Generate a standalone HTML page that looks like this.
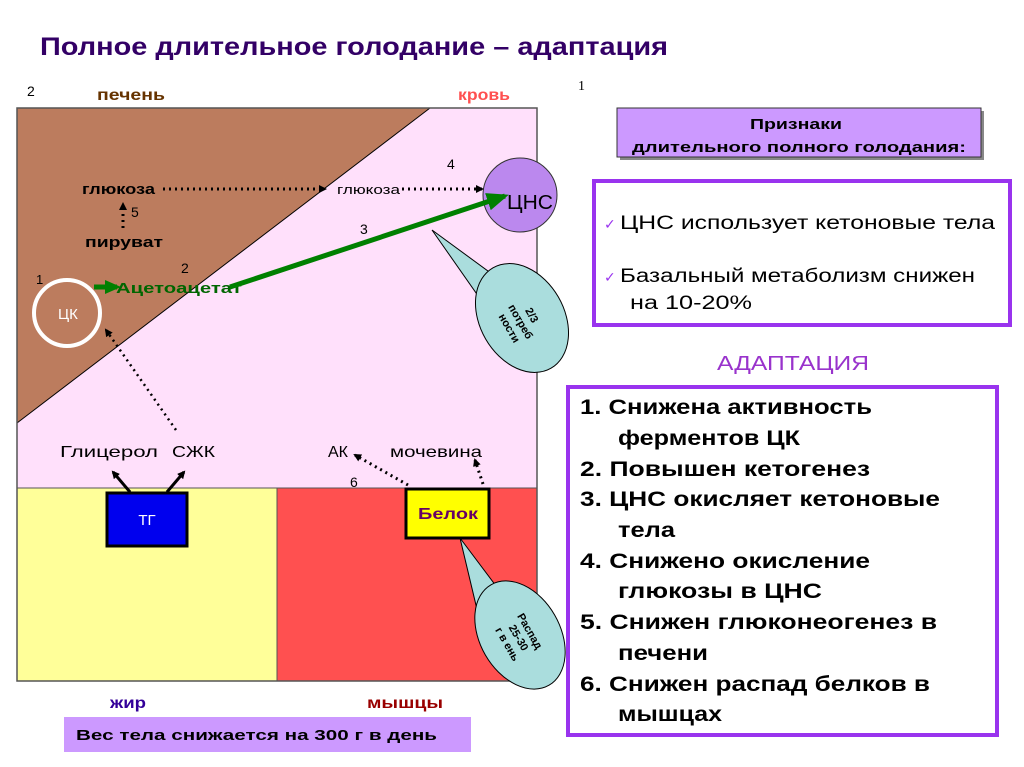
<!DOCTYPE html>
<html><head><meta charset="utf-8"><style>
html,body{margin:0;padding:0;background:#fff;}
svg{display:block;font-family:"Liberation Sans","DejaVu Sans",sans-serif;}
</style></head><body>
<svg width="1024" height="767" viewBox="0 0 1024 767" xmlns="http://www.w3.org/2000/svg">
<defs>
<marker id="ab" markerWidth="8" markerHeight="8" refX="6" refY="4" orient="auto" markerUnits="userSpaceOnUse"><path d="M0,0 L8,4 L0,8 z" fill="#000"/></marker>
<marker id="ag" markerWidth="22" markerHeight="18" refX="18" refY="9" orient="auto" markerUnits="userSpaceOnUse"><path d="M0,0 L22,9 L0,18 z" fill="#008000"/></marker>
<marker id="ag2" markerWidth="16" markerHeight="14" refX="12" refY="7" orient="auto" markerUnits="userSpaceOnUse"><path d="M0,0 L16,7 L0,14 z" fill="#008000"/></marker>
</defs>
<text x="40" y="55" font-size="25" font-weight="bold" fill="#330066" textLength="628" lengthAdjust="spacingAndGlyphs">Полное длительное голодание – адаптация</text>
<text x="27" y="96" font-size="14">2</text>
<text x="97" y="100" font-size="16" font-weight="bold" fill="#663300" textLength="68" lengthAdjust="spacingAndGlyphs">печень</text>
<text x="458" y="100" font-size="16" font-weight="bold" fill="#ff5050" textLength="52" lengthAdjust="spacingAndGlyphs">кровь</text>
<text x="578" y="90" font-size="14" font-family="Liberation Serif">1</text>
<!-- main panel -->
<rect x="17" y="108" width="520" height="380" fill="#ffe0fb"/>
<polygon points="17,108 430,108 17,423" fill="#bc7c5e"/>
<line x1="430" y1="108" x2="17" y2="423" stroke="#000" stroke-width="1"/>
<rect x="17" y="488" width="260" height="193" fill="#ffff99"/>
<rect x="277" y="488" width="260" height="193" fill="#ff5050"/>
<rect x="17" y="108" width="520" height="573" fill="none" stroke="#555" stroke-width="1.5"/>
<line x1="17" y1="488" x2="537" y2="488" stroke="#555"/>
<line x1="277" y1="488" x2="277" y2="681" stroke="#555"/>
<!-- ЦНС -->
<circle cx="520" cy="195" r="37" fill="#bb88ee" stroke="#333" stroke-width="1"/>
<text x="507" y="209" font-size="20" fill="#000" textLength="46" lengthAdjust="spacingAndGlyphs">ЦНС</text>
<!-- ЦК -->
<circle cx="67" cy="313" r="33" fill="none" stroke="#fff" stroke-width="4"/>
<text x="58" y="319" font-size="15" fill="#fff">ЦК</text>
<text x="36" y="284" font-size="13">1</text>
<!-- labels -->
<text x="82" y="194" font-size="15" font-weight="bold" textLength="73" lengthAdjust="spacingAndGlyphs">глюкоза</text>
<text x="85" y="247" font-size="15" font-weight="bold" textLength="78" lengthAdjust="spacingAndGlyphs">пируват</text>
<text x="131" y="217" font-size="14">5</text>
<line x1="123" y1="228" x2="123" y2="204" stroke="#000" stroke-width="3" stroke-dasharray="2,4" marker-end="url(#ab)"/>
<line x1="163" y1="189" x2="325" y2="189" stroke="#000" stroke-width="3" stroke-dasharray="2,4" marker-end="url(#ab)"/>
<text x="337" y="194" font-size="13" textLength="63" lengthAdjust="spacingAndGlyphs">глюкоза</text>
<line x1="402" y1="189" x2="482" y2="189" stroke="#000" stroke-width="3" stroke-dasharray="2,4" marker-end="url(#ab)"/>
<text x="447" y="169" font-size="14">4</text>
<text x="360" y="234" font-size="14">3</text>
<text x="181" y="273" font-size="14">2</text>
<line x1="94" y1="287" x2="117" y2="287" stroke="#008000" stroke-width="5" marker-end="url(#ag2)"/>
<text x="116" y="293" font-size="15" font-weight="bold" fill="#006600" textLength="126" lengthAdjust="spacingAndGlyphs">Ацетоацетат</text>
<line x1="230" y1="287" x2="505" y2="196" stroke="#008000" stroke-width="5" marker-end="url(#ag)"/>
<line x1="176" y1="430" x2="106" y2="330" stroke="#000" stroke-width="2.5" stroke-dasharray="2,4" marker-end="url(#ab)"/>
<text x="60" y="457" font-size="16" textLength="98" lengthAdjust="spacingAndGlyphs">Глицерол</text>
<text x="172" y="457" font-size="16" textLength="43" lengthAdjust="spacingAndGlyphs">СЖК</text>
<text x="328" y="457" font-size="16">АК</text>
<text x="390" y="457" font-size="16" textLength="92" lengthAdjust="spacingAndGlyphs">мочевина</text>
<text x="350" y="487" font-size="14">6</text>
<line x1="130" y1="492" x2="113" y2="472" stroke="#000" stroke-width="3" marker-end="url(#ab)"/>
<line x1="167" y1="492" x2="184" y2="472" stroke="#000" stroke-width="3" marker-end="url(#ab)"/>
<line x1="408" y1="485" x2="355" y2="455" stroke="#000" stroke-width="3" stroke-dasharray="2,4" marker-end="url(#ab)"/>
<line x1="483" y1="484" x2="475" y2="460" stroke="#000" stroke-width="3" stroke-dasharray="2,4" marker-end="url(#ab)"/>
<!-- boxes -->
<rect x="107" y="493" width="80" height="53" fill="#0000ee" stroke="#000" stroke-width="3"/>
<text x="147" y="525" font-size="15" fill="#fff" text-anchor="middle">ТГ</text>
<rect x="406" y="489" width="83" height="49" fill="#ffff00" stroke="#000" stroke-width="3"/>
<text x="418" y="519" font-size="16" font-weight="bold" fill="#660066" textLength="60" lengthAdjust="spacingAndGlyphs">Белок</text>
<!-- callouts -->
<path d="M432,230 L507,285 L488,310 Z" fill="#aadddd" stroke="#000"/>
<ellipse cx="522" cy="318" rx="42" ry="58" transform="rotate(-30 522 318)" fill="#aadddd" stroke="#000"/>
<path d="M505,283 L490,308" stroke="#aadddd" stroke-width="3"/>
<g transform="translate(520,322) rotate(60)" font-size="11" font-weight="bold" text-anchor="middle">
<text x="0" y="-10">2/3</text><text x="0" y="3">потреб</text><text x="0" y="16">ности</text></g>
<path d="M460,538 L505,598 L480,622 Z" fill="#aadddd" stroke="#000"/>
<ellipse cx="520" cy="635" rx="40" ry="58" transform="rotate(-30 520 635)" fill="#aadddd" stroke="#000"/>
<path d="M503,600 L482,620" stroke="#aadddd" stroke-width="3"/>
<g transform="translate(518,638) rotate(60)" font-size="11" font-weight="bold" text-anchor="middle">
<text x="0" y="-10">Распад</text><text x="0" y="3">25-30</text><text x="0" y="16">г в ень</text></g>
<text x="110" y="708" font-size="16" font-weight="bold" fill="#330099" textLength="36" lengthAdjust="spacingAndGlyphs">жир</text>
<text x="367" y="708" font-size="16" font-weight="bold" fill="#990000" textLength="76" lengthAdjust="spacingAndGlyphs">мышцы</text>
<rect x="64" y="717" width="407" height="35" fill="#cc99ff"/>
<text x="76" y="740" font-size="15" font-weight="bold" textLength="361" lengthAdjust="spacingAndGlyphs">Вес тела снижается на 300 г в день</text>
<!-- right side -->
<rect x="620" y="111" width="364" height="49" fill="#888"/>
<rect x="617" y="108" width="364" height="49" fill="#cc99ff" stroke="#333"/>
<text x="750" y="129" font-size="15" font-weight="bold" textLength="92" lengthAdjust="spacingAndGlyphs">Признаки</text>
<text x="632" y="152" font-size="15" font-weight="bold" textLength="334" lengthAdjust="spacingAndGlyphs">длительного полного голодания:</text>
<rect x="594" y="181" width="416" height="144" fill="#fff" stroke="#9933ee" stroke-width="4"/>
<text x="604" y="229" font-size="14" fill="#9933ee">✓</text>
<text x="620" y="229" font-size="19" textLength="375" lengthAdjust="spacingAndGlyphs">ЦНС использует кетоновые тела</text>
<text x="604" y="282" font-size="14" fill="#9933ee">✓</text>
<text x="620" y="282" font-size="19" textLength="355" lengthAdjust="spacingAndGlyphs">Базальный метаболизм снижен</text>
<text x="630" y="309" font-size="19" textLength="122" lengthAdjust="spacingAndGlyphs">на 10-20%</text>
<text x="717" y="370" font-size="20" fill="#9933cc" textLength="152" lengthAdjust="spacingAndGlyphs">АДАПТАЦИЯ</text>
<rect x="568" y="387" width="429" height="348" fill="#fff" stroke="#9933ee" stroke-width="4"/>
<g font-size="21" font-weight="bold" lengthAdjust="spacingAndGlyphs">
<text x="580" y="414" textLength="292" lengthAdjust="spacingAndGlyphs">1. Снижена активность</text>
<text x="618" y="445" textLength="182" lengthAdjust="spacingAndGlyphs">ферментов ЦК</text>
<text x="580" y="476" textLength="290" lengthAdjust="spacingAndGlyphs">2. Повышен кетогенез</text>
<text x="580" y="506" textLength="360" lengthAdjust="spacingAndGlyphs">3. ЦНС окисляет кетоновые</text>
<text x="618" y="537" textLength="57" lengthAdjust="spacingAndGlyphs">тела</text>
<text x="580" y="568" textLength="290" lengthAdjust="spacingAndGlyphs">4. Снижено окисление</text>
<text x="618" y="598" textLength="204" lengthAdjust="spacingAndGlyphs">глюкозы в ЦНС</text>
<text x="580" y="629" textLength="357" lengthAdjust="spacingAndGlyphs">5. Снижен глюконеогенез в</text>
<text x="618" y="660" textLength="90" lengthAdjust="spacingAndGlyphs">печени</text>
<text x="580" y="691" textLength="350" lengthAdjust="spacingAndGlyphs">6. Снижен распад белков в</text>
<text x="618" y="721" textLength="104" lengthAdjust="spacingAndGlyphs">мышцах</text>
</g>
</svg>
</body></html>
